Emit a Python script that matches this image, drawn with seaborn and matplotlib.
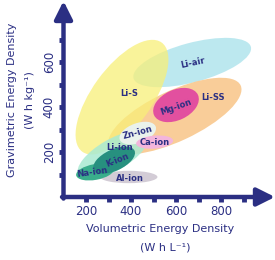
import numpy as np
import matplotlib
matplotlib.use('Agg')
import matplotlib.pyplot as plt
from matplotlib.patches import Ellipse
import seaborn as sns

sns.set_theme(style="white")
plt.rcParams['font.family'] = ['DejaVu Sans']

NAVY = '#2b2f83'

# Chemistries: centre (volumetric, gravimetric), extent along the long / short axis, tilt in degrees
names = ['Li-air', 'Li-SS', 'Li-S', 'Mg-ion', 'Al-ion', 'Li-ion', 'Na-ion', 'K-ion', 'Zn-ion', 'Ca-ion']
vol_center = [672, 595, 360, 600, 390, 320, 240, 325, 430, 505]
grav_center = [598, 360, 444, 409, 89, 187, 111, 164, 284, 244]
long_span = [540, 645, 600, 215, 255, 355, 170, 200, 170, 165]
short_span = [175, 225, 265, 135, 55, 140, 70, 95, 88, 58]
tilt = [15, 25, 54, 25, 0, 30, 10, 25, 20, 5]
colors = ['#b5e6ee', '#f9c88e', '#f8ef78', '#e2509f', '#d3ccd6', '#a9ead2',
          '#3aae8c', '#27907f', '#eaf2ec', '#f3b5dc']
alphas = [0.9, 0.9, 0.75, 1.0, 1.0, 0.85, 1.0, 1.0, 1.0, 1.0]

# label positions / rotations
label_x = [675, 764, 390, 600, 395, 350, 230, 340, 428, 505]
label_y = [595, 444, 462, 400, 84, 222, 111, 164, 288, 244]
label_rot = [12, 0, 0, 20, 0, 0, 8, 22, 15, 0]

x_ticks = [200, 300, 400, 500, 600, 700, 800, 900]
x_labels = ['200', '', '400', '', '600', '', '800', '']
y_ticks = [100, 200, 300, 400, 500, 600, 700]
y_labels = ['', '200', '', '400', '', '600', '']

W, H = 275, 260
fig = plt.figure(figsize=(2.75, 2.6), dpi=100)
ax = fig.add_axes([63.5 / W, 63 / H, (W - 63.5) / W, 197 / H])
ax.set_xlim(100, 1040)
ax.set_ylim(0, 876)
ax.set_facecolor('none')

for i in range(len(names)):
    e = Ellipse((vol_center[i], grav_center[i]), long_span[i], short_span[i],
                angle=tilt[i], facecolor=colors[i], edgecolor='none',
                alpha=alphas[i])
    ax.add_patch(e)
    ax.text(label_x[i], label_y[i], names[i], ha='center', va='center',
            rotation=label_rot[i], fontsize=6, color=NAVY, fontweight='bold')

for s in ax.spines.values():
    s.set_visible(False)

ax.set_xticks(x_ticks)
ax.set_xticklabels(x_labels)
ax.set_yticks(y_ticks)
ax.set_yticklabels(y_labels, rotation=90, va='center')
ax.tick_params(axis='both', direction='out', length=3.5, width=3.5, color=NAVY,
               labelcolor=NAVY, labelsize=8.5, pad=2, bottom=True, left=True)

# arrow axes
arrow = dict(arrowstyle='-|>,head_width=0.45,head_length=0.9', color=NAVY, lw=3.2,
             shrinkA=0, shrinkB=0)
ax.annotate('', xy=(0, 0.995), xytext=(0, -0.008), xycoords='axes fraction',
            arrowprops=arrow, annotation_clip=False)
ax.annotate('', xy=(1.0, 0), xytext=(-0.007, 0), xycoords='axes fraction',
            arrowprops=arrow, annotation_clip=False)

fig.text(12 / W, 1 - 100 / H, 'Gravimetric Energy Density', rotation=90,
         ha='center', va='center', fontsize=8, color=NAVY)
fig.text(30 / W, 1 - 100 / H, '(W h kg⁻¹)', rotation=90,
         ha='center', va='center', fontsize=8, color=NAVY)
fig.text(160 / W, 1 - 229 / H, 'Volumetric Energy Density',
         ha='center', va='center', fontsize=8, color=NAVY)
fig.text(165 / W, 1 - 248 / H, '(W h L⁻¹)',
         ha='center', va='center', fontsize=8, color=NAVY)

fig.savefig('out.png', dpi=100, facecolor='white')
